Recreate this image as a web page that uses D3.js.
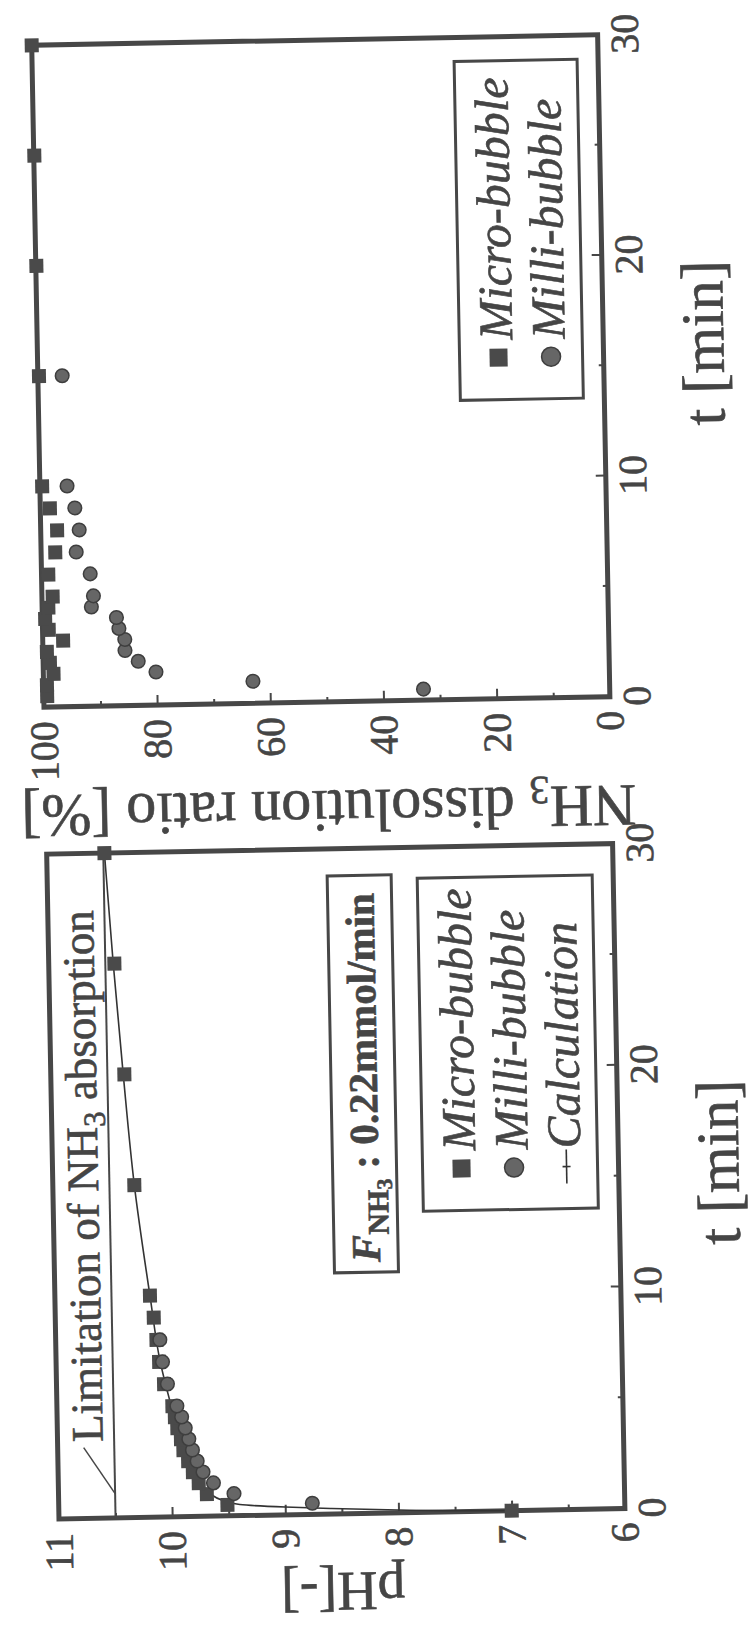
<!DOCTYPE html>
<meta charset="utf-8">
<script src="https://d3js.org/d3.v7.min.js"></script>
<style>
  body { margin: 0; background: #fff; }
  text { font-family: "Liberation Serif", "Times New Roman", serif; fill: #454545; stroke: #454545; stroke-width: 0.6px; }
</style>
<svg width="755" height="1628"></svg>
<script>

// ---- pH chart data (t in min, pH) ----
const microPhT = [0, 0.5, 1, 1.5, 2, 2.5, 3, 3.5, 4, 4.5, 5, 6, 7, 8, 9, 10, 15, 20, 25, 30];
const microPh  = [7.0, 9.51, 9.69, 9.76, 9.81, 9.85, 9.89, 9.91, 9.94, 9.96, 9.98, 10.05, 10.09, 10.11, 10.13, 10.16, 10.28, 10.35, 10.42, 10.49];
const milliPhT = [0.5, 1, 1.5, 2, 2.5, 3, 3.5, 4, 4.5, 5, 6, 7, 8];
const milliPh  = [8.76, 9.45, 9.63, 9.72, 9.77, 9.81, 9.84, 9.87, 9.9, 9.94, 10.02, 10.06, 10.08];
const calcT    = [0, 0.05, 0.12, 0.25, 0.35, 0.5, 0.7, 1, 1.5, 2, 3, 4, 5, 7, 10, 15, 20, 25, 30];
const calcPh   = [7.0, 7.6, 8.0, 8.6, 9.0, 9.4, 9.55, 9.66, 9.75, 9.81, 9.89, 9.94, 9.99, 10.08, 10.16, 10.28, 10.36, 10.43, 10.49];
const limitPh = 10.5;

// ---- dissolution chart data (t in min, %) ----
const microDisT = [0.5, 1, 1.5, 2, 2.5, 3, 3.5, 4, 4.5, 5, 6, 7, 8, 9, 10, 15, 20, 25, 30];
const microDis  = [99.4, 99.4, 98.2, 98.8, 99.3, 96.4, 98.9, 99.5, 98.9, 98.1, 98.8, 97.5, 97.1, 98.3, 99.6, 99.8, 99.9, 99.9, 100];
const milliDisT = [0.5, 1, 1.5, 2, 2.5, 3, 3.5, 4, 4.5, 5, 6, 7, 8, 9, 10, 15];
const milliDis  = [32.9, 63.0, 80.1, 83.2, 85.5, 85.5, 86.5, 86.9, 91.3, 90.9, 91.4, 93.8, 93.2, 93.9, 95.2, 95.7];

// ticks
const tTicks = [0, 10, 20, 30], tMinor = [5, 15, 25];
const phTicks = [6, 7, 8, 9, 10, 11], phMinor = [6.5, 7.5, 8.5, 9.5, 10.5];
const disTicks = [0, 20, 40, 60, 80, 100], disMinor = [10, 30, 50, 70, 90];

const ink = "#474747";
const serif = "Liberation Serif, Times New Roman, serif";
const svg = d3.select("svg");

// the scanned page is turned a quarter left and a little askew
const page = svg.append("g").attr("transform", "rotate(-1.06,377,814)")
  .append("g").attr("transform", "translate(0,1628) rotate(-90)");

function panel(opt) {
  const g = page.append("g");
  const x = d3.scaleLinear().domain([0, 30]).range([opt.x0, opt.x1]);
  const y = d3.scaleLinear().domain(opt.yDomain).range([612, 46]);

  // axes with inward ticks
  g.append("g").attr("transform", "translate(0,612)")
    .call(d3.axisBottom(x).tickValues(tTicks).tickSizeInner(-10).tickSizeOuter(0).tickPadding(12).tickFormat(d3.format("d")))
    .attr("font-size", 40).attr("font-family", serif);
  g.append("g").attr("transform", "translate(0,612)")
    .call(d3.axisBottom(x).tickValues(tMinor).tickSizeInner(-5).tickSizeOuter(0).tickFormat(""));
  g.append("g").attr("transform", "translate(" + opt.x0 + ",0)")
    .call(d3.axisLeft(y).tickValues(opt.yTicks).tickSizeInner(-10).tickSizeOuter(0).tickPadding(14).tickFormat(d3.format("d")))
    .attr("font-size", 40).attr("font-family", serif);
  g.append("g").attr("transform", "translate(" + opt.x0 + ",0)")
    .call(d3.axisLeft(y).tickValues(opt.yMinor).tickSizeInner(-5).tickSizeOuter(0).tickFormat(""));
  g.selectAll(".domain").remove();
  g.selectAll(".tick line").attr("stroke", ink).attr("stroke-width", 2);
  g.selectAll(".tick text").attr("fill", ink);

  // frame
  g.append("rect")
    .attr("x", opt.x0).attr("y", 46)
    .attr("width", opt.x1 - opt.x0).attr("height", 566)
    .attr("fill", "none").attr("stroke", ink).attr("stroke-width", 5);

  // axis titles
  g.append("text")
    .attr("x", (opt.x0 + opt.x1) / 2 + opt.tShift).attr("y", 732)
    .attr("text-anchor", "middle").attr("font-size", 60)
    .text("t [min]");
  const yt = g.append("text")
    .attr("transform", "translate(" + (opt.x0 - opt.titleGap) + ",329) rotate(-90)")
    .attr("text-anchor", "middle").attr("font-size", opt.titleSize);
  opt.yTitle(yt);

  return { g, x, y };
}

function squares(g, x, y, ts, vs) {
  g.append("g").selectAll("rect")
    .data(ts.map((t, i) => [t, vs[i]]))
    .join("rect")
    .attr("x", d => x(d[0]) - 7).attr("y", d => y(d[1]) - 7)
    .attr("width", 14).attr("height", 14)
    .attr("fill", "#4a4a4a");
}
function circles(g, x, y, ts, vs) {
  g.append("g").selectAll("circle")
    .data(ts.map((t, i) => [t, vs[i]]))
    .join("circle")
    .attr("cx", d => x(d[0])).attr("cy", d => y(d[1]))
    .attr("r", 6.8)
    .attr("fill", "#666").attr("stroke", "#3e3e3e").attr("stroke-width", 1.5);
}

// ---------- pH chart ----------
const A = panel({
  x0: 115, x1: 780, yDomain: [6, 11], yTicks: phTicks, yMinor: phMinor,
  titleGap: 59, titleSize: 56, tShift: 12,
  yTitle: t => t.text("pH[-]")
});

// limitation line + label
A.g.append("line")
  .attr("x1", A.x(0)).attr("x2", A.x(30))
  .attr("y1", A.y(limitPh)).attr("y2", A.y(limitPh))
  .attr("stroke", ink).attr("stroke-width", 2);
const lim = A.g.append("text").attr("x", A.x(3.45)).attr("y", A.y(10.6)).attr("font-size", 45);
lim.append("tspan").text("Limitation of NH");
lim.append("tspan").attr("font-size", 31).attr("dy", 8).text("3");
lim.append("tspan").attr("dy", -8).text(" absorption");
A.g.append("line")
  .attr("x1", A.x(3.2)).attr("y1", A.y(10.77))
  .attr("x2", A.x(1.1)).attr("y2", A.y(limitPh))
  .attr("stroke", ink).attr("stroke-width", 1.5);

// calculation curve
A.g.append("path")
  .datum(calcT.map((t, i) => [t, calcPh[i]]))
  .attr("d", d3.line().x(d => A.x(d[0])).y(d => A.y(d[1])).curve(d3.curveMonotoneX))
  .attr("fill", "none").attr("stroke", "#333").attr("stroke-width", 1.6);
squares(A.g, A.x, A.y, microPhT, microPh);
circles(A.g, A.x, A.y, milliPhT, milliPh);

// F_NH3 box
A.g.append("rect").attr("x", 356).attr("y", 326).attr("width", 397).attr("height", 64)
  .attr("fill", "#fff").attr("stroke", ink).attr("stroke-width", 3);
const f = A.g.append("text").attr("x", 366).attr("y", 372).attr("font-size", 41).attr("font-weight", "bold");
f.append("tspan").attr("font-style", "italic").text("F");
f.append("tspan").attr("font-size", 30).attr("dy", 9).text("NH");
f.append("tspan").attr("font-size", 22).attr("dy", 4).text("3");
f.append("tspan").attr("dy", -13).text(" : 0.22mmol/min");

// legend
function legend(g, x0, y0, w, h, rows) {
  g.append("rect").attr("x", x0).attr("y", y0).attr("width", w).attr("height", h)
    .attr("fill", "#fff").attr("stroke", ink).attr("stroke-width", 3);
  rows.forEach((r, i) => {
    const cy = y0 + 39 + i * 52.5, cx = x0 + 42;
    if (r.kind === "square") {
      g.append("rect").attr("x", cx - 9).attr("y", cy - 9).attr("width", 18).attr("height", 18).attr("fill", "#4a4a4a");
    } else if (r.kind === "circle") {
      g.append("circle").attr("cx", cx).attr("cy", cy).attr("r", 9.5)
        .attr("fill", "#666").attr("stroke", "#3e3e3e").attr("stroke-width", 1.5);
    } else {
      g.append("line").attr("x1", cx - 17).attr("x2", cx + 17).attr("y1", cy).attr("y2", cy)
        .attr("stroke", "#333").attr("stroke-width", 1.6);
      g.append("line").attr("x1", cx).attr("x2", cx).attr("y1", cy - 4).attr("y2", cy + 4)
        .attr("stroke", "#333").attr("stroke-width", 1.6);
    }
    g.append("text").attr("x", cx + 18).attr("y", cy + 14)
      .attr("font-size", 48).attr("font-style", "italic").text(r.label);
  });
}
legend(A.g, 416, 416, 333, 175, [
  { kind: "square", label: "Micro-bubble" },
  { kind: "circle", label: "Milli-bubble" },
  { kind: "line", label: "Calculation" }
]);

// ---------- dissolution chart ----------
const B = panel({
  x0: 927, x1: 1589, yDomain: [0, 100], yTicks: disTicks, yMinor: disMinor,
  titleGap: 89, titleSize: 60, tShift: 21,
  yTitle: t => {
    t.append("tspan").text("NH");
    t.append("tspan").attr("font-size", 40).attr("dy", 10).text("3");
    t.append("tspan").attr("dy", -10).text(" dissolution ratio [%]");
  }
});
squares(B.g, B.x, B.y, microDisT, microDis);
circles(B.g, B.x, B.y, milliDisT, milliDis);
legend(B.g, 1226, 468, 339, 123, [
  { kind: "square", label: "Micro-bubble" },
  { kind: "circle", label: "Milli-bubble" }
]);

</script>
